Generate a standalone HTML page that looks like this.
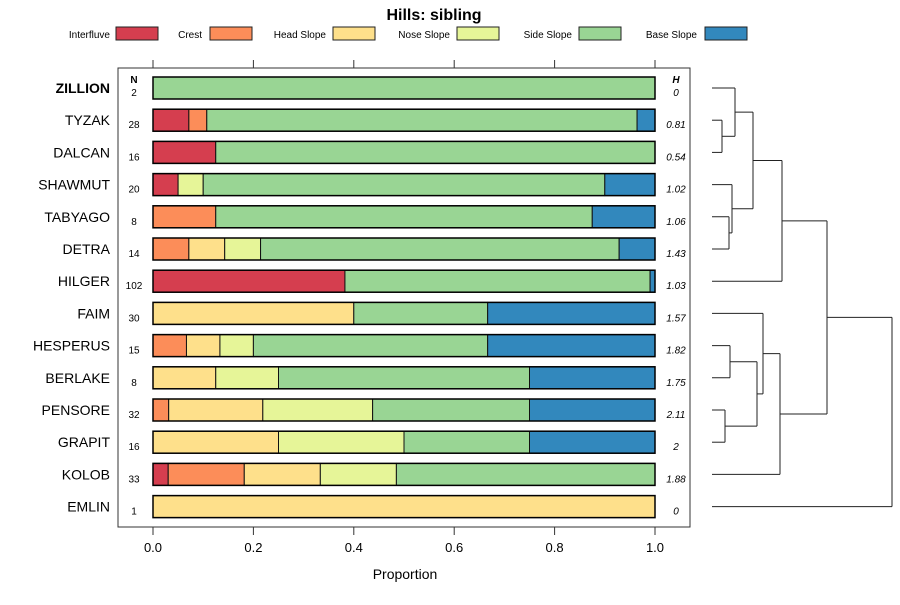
<!DOCTYPE html>
<html><head><meta charset="utf-8"><style>
body{margin:0;background:#fff;font-family:"Liberation Sans",sans-serif}
svg text{font-family:"Liberation Sans",sans-serif}
</style></head><body>
<svg id="c" width="900" height="600" xmlns="http://www.w3.org/2000/svg">
<text x="434" y="20" text-anchor="middle" font-size="16" font-weight="bold">Hills: sibling</text>
<g id="legend"></g>
<rect x="118" y="68" width="572" height="459" fill="none" stroke="#333" stroke-width="1"/>
<g id="bars"></g>
<g id="axes"></g>
<g id="dend" stroke="#222" stroke-width="1" fill="none"></g>
<text x="405" y="579" text-anchor="middle" font-size="14">Proportion</text>
<text x="134" y="83" text-anchor="middle" font-size="10" font-weight="bold">N</text>
<text x="676" y="83" text-anchor="middle" font-size="10" font-weight="bold" font-style="italic">H</text>
</svg>
<script>
const classes=["Interfluve","Crest","Head Slope","Nose Slope","Side Slope","Base Slope"];
const colors=["#D53E4F","#FC8D59","#FEE08B","#E6F598","#99D594","#3288BD"];
const names=["ZILLION","TYZAK","DALCAN","SHAWMUT","TABYAGO","DETRA","HILGER","FAIM","HESPERUS","BERLAKE","PENSORE","GRAPIT","KOLOB","EMLIN"];
const nVals=[2,28,16,20,8,14,102,30,15,8,32,16,33,1];
const hVals=["0","0.81","0.54","1.02","1.06","1.43","1.03","1.57","1.82","1.75","2.11","2","1.88","0"];
const counts=[
[0,0,0,0,2,0],
[2,1,0,0,24,1],
[2,0,0,0,14,0],
[1,0,0,1,16,2],
[0,1,0,0,6,1],
[0,1,1,1,10,1],
[39,0,0,0,62,1],
[0,0,12,0,8,10],
[0,1,1,1,7,5],
[0,0,1,1,4,2],
[0,1,6,7,10,8],
[0,0,4,4,4,4],
[1,5,5,5,17,0],
[0,0,1,0,0,0]];
const xTicks=[0,0.2,0.4,0.6,0.8,1.0];
const xTickLabels=["0.0","0.2","0.4","0.6","0.8","1.0"];
const NS="http://www.w3.org/2000/svg";
const X=v=>153+v*502;
const Y=i=>88+i*32.2;
function mk(tag,attrs,parent,text){const e=document.createElementNS(NS,tag);for(const k in attrs)e.setAttribute(k,attrs[k]);if(text!==undefined)e.textContent=text;parent.appendChild(e);return e;}
const lg=document.getElementById('legend');
const lx=[[110,116],[202,210],[326,333],[450,457],[572,579],[697,705]];
classes.forEach((c,i)=>{
  const t=mk('text',{x:lx[i][0],y:38,'text-anchor':'end','font-size':10},lg,c);
  
  
  const r=mk('rect',{x:lx[i][1],y:27,width:42,height:13,fill:colors[i],stroke:'#222','stroke-width':1},lg);
  
  
});
const bg=document.getElementById('bars');
names.forEach((nm,i)=>{
  const tot=counts[i].reduce((a,b)=>a+b,0);
  let cum=0;const y=Y(i);
  counts[i].forEach((v,k)=>{
    if(!v)return;
    const p=v/tot;
    const r=mk('rect',{x:X(cum),y:y-11,width:X(cum+p)-X(cum),height:22,fill:colors[k],stroke:'#111','stroke-width':1},bg);
    
    
    cum+=p;
  });
  mk('rect',{x:X(0),y:y-11,width:X(1)-X(0),height:22,fill:'none',stroke:'#000','stroke-width':1.5},bg);
  const lab=mk('text',{x:110,y:y+5,'text-anchor':'end','font-size':14,'font-weight':i===0?'bold':'normal'},bg,nm);
  
  
  const nt=mk('text',{x:134,y:y+8,'text-anchor':'middle','font-size':10},bg,String(nVals[i]));
  
  
  const ht=mk('text',{x:676,y:y+8,'text-anchor':'middle','font-size':10,'font-style':'italic'},bg,hVals[i]);
  
  
});
const ag=document.getElementById('axes');
xTicks.forEach((v,i)=>{
  mk('line',{x1:X(v),x2:X(v),y1:60,y2:68,stroke:'#333'},ag);
  mk('line',{x1:X(v),x2:X(v),y1:527,y2:535,stroke:'#333'},ag);
  const t=mk('text',{x:X(v),y:552,'text-anchor':'middle','font-size':13},ag,xTickLabels[i]);
  
  
});
const dg=document.getElementById('dend');
function seg(x1,y1,x2,y2){mk('line',{x1,y1,x2,y2},dg);}
function join(a,b,x){seg(a.x,a.y,x,a.y);seg(b.x,b.y,x,b.y);seg(x,a.y,x,b.y);return {x:x,y:(a.y+b.y)/2};}
const L=i=>({x:712,y:Y(i)});
const td=join(L(1),L(2),722);
const ztd=join(L(0),td,735);
const tdt=join(L(4),L(5),729);
const s=join(L(3),tdt,732);
const top1=join(ztd,s,753);
const top2=join(top1,L(6),782);
const hb=join(L(8),L(9),730);
const pg=join(L(10),L(11),725);
const hbpg=join(hb,pg,757);
const f=join(L(7),hbpg,763);
const k=join(f,L(12),780);
const tk=join(top2,k,827);
join(tk,L(13),892);
</script>
</body></html>
